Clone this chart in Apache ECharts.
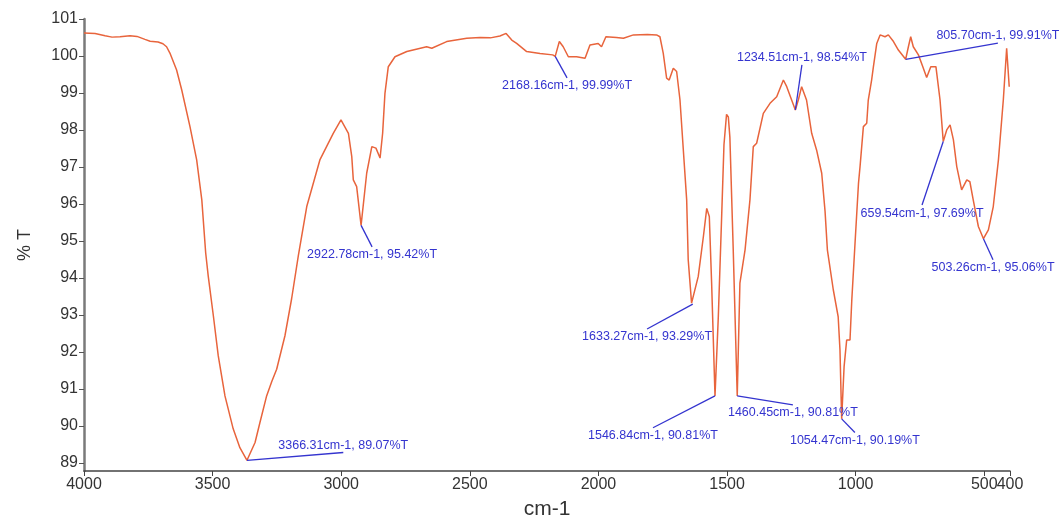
<!DOCTYPE html>
<html>
<head>
<meta charset="utf-8">
<script src="https://cdn.jsdelivr.net/npm/echarts@6/dist/echarts.min.js"></script>
<style>
  html, body { margin: 0; padding: 0; background: #fff; }
  #chart { width: 1059px; height: 516px; }
</style>
</head>
<body>
<div id="chart"></div>
<script>
// IR spectrum (cm-1 vs %T)
const wavenumber = [
  4000, 3957, 3918, 3891, 3860, 3821, 3794, 3763, 3743, 3712, 3693, 3679, 3666, 3640, 3620,
  3588, 3562, 3542, 3527, 3517, 3497, 3478, 3452, 3420, 3394, 3366.31, 3335, 3316, 3290, 3270,
  3251, 3219, 3193, 3167, 3134, 3083, 3031, 3001, 2972, 2959, 2953, 2940, 2922.78, 2901, 2881,
  2865, 2849, 2839, 2830, 2817, 2791, 2745, 2668, 2648, 2590, 2512, 2460, 2420, 2383, 2359,
  2337, 2318, 2279, 2227, 2178, 2168.16, 2152, 2137, 2117, 2085, 2052, 2033, 2001, 1988, 1971,
  1930, 1903, 1864, 1810, 1774, 1761, 1748, 1735, 1725, 1709, 1696, 1683, 1670, 1657, 1651,
  1638, 1633.27, 1612, 1592, 1579, 1569, 1560, 1546.84, 1534, 1521, 1512, 1502, 1495, 1489, 1476,
  1460.45, 1450, 1430, 1411, 1398, 1385, 1359, 1333, 1307, 1281, 1268, 1234.51, 1223, 1210, 1191,
  1171, 1152, 1132, 1119, 1110, 1087, 1068, 1061, 1054.47, 1045, 1035, 1022, 1015, 1002, 989,
  983, 970, 957, 951, 938, 931, 918, 905, 886, 873, 853, 834, 805.70, 795, 786,
  776, 756, 739, 724, 708, 688, 672, 659.54, 646, 633, 620, 607, 588, 568, 556,
  543, 523, 503.26, 484, 465, 445, 426, 413, 403
];
const transmittance = [
  100.62, 100.61, 100.55, 100.51, 100.52, 100.55, 100.53, 100.45, 100.40, 100.38, 100.33, 100.25, 100.08, 99.62, 99.08,
  98.09, 97.19, 96.11, 94.68, 94.05, 92.97, 91.89, 90.81, 89.92, 89.41, 89.07, 89.55, 90.09, 90.81, 91.20,
  91.53, 92.43, 93.43, 94.59, 95.93, 97.19, 97.91, 98.27, 97.91, 97.28, 96.65, 96.47, 95.42, 96.83, 97.55,
  97.51, 97.24, 97.91, 98.99, 99.71, 99.98, 100.12, 100.25, 100.21, 100.39, 100.48, 100.50, 100.49, 100.54, 100.61,
  100.43, 100.34, 100.12, 100.07, 100.03, 99.99, 100.39, 100.25, 99.98, 99.98, 99.94, 100.30, 100.34, 100.25, 100.52,
  100.50, 100.48, 100.57, 100.58, 100.57, 100.52, 100.07, 99.40, 99.35, 99.67, 99.58, 98.81, 97.46, 96.11, 94.49,
  93.32, 93.29, 94.04, 95.12, 95.88, 95.66, 93.86, 90.81, 92.95, 95.66, 97.60, 98.42, 98.35, 97.80, 94.76,
  90.81, 93.86, 94.76, 96.11, 97.55, 97.64, 98.45, 98.72, 98.90, 99.35, 99.17, 98.54, 98.81, 99.17, 98.81,
  97.91, 97.46, 96.83, 95.80, 94.76, 93.68, 92.95, 92.05, 90.19, 91.60, 92.32, 92.32, 93.41, 95.00, 96.56,
  97.01, 98.09, 98.18, 98.81, 99.35, 99.71, 100.34, 100.57, 100.52, 100.57, 100.39, 100.16, 99.91, 100.25, 100.52,
  100.25, 100.03, 99.71, 99.42, 99.71, 99.71, 98.81, 97.69, 98.00, 98.14, 97.73, 97.01, 96.38, 96.65, 96.60,
  96.11, 95.39, 95.06, 95.30, 95.93, 97.19, 98.81, 100.21, 99.17
];

// picked peaks
const peakWavenumber = [3366.31, 2922.78, 2168.16, 1633.27, 1546.84, 1460.45, 1054.47, 1234.51, 805.70, 659.54, 503.26];
const peakT = [89.07, 95.42, 99.99, 93.29, 90.81, 90.81, 90.19, 98.54, 99.91, 97.69, 95.06];

// where each leader line ends (axis units) and whether its text sits above or below
const labelAnchorX = [2992, 2880, 2122, 1811, 1788, 1244, 1003, 1209, 447, 742, 466];
const labelAnchorY = [89.28, 94.84, 99.41, 92.62, 89.95, 90.57, 89.82, 99.76, 100.35, 95.97, 94.49];
const labelSide = ['top', 'bottom', 'bottom', 'bottom', 'bottom', 'bottom', 'bottom', 'top', 'top', 'bottom', 'bottom'];

const xTicks = [4000, 3500, 3000, 2500, 2000, 1500, 1000, 500, 400];
const xEndTick = [400];
const yTicks = [89, 90, 91, 92, 93, 94, 95, 96, 97, 98, 99, 100, 101];

const FONT = 'Liberation Sans, Arial, sans-serif';
const BLUE = '#3434cf';

const chart = echarts.init(document.getElementById('chart'), null, { renderer: 'canvas' });

const lineData = wavenumber.map((w, i) => [w, transmittance[i]]);

const leaders = peakWavenumber.map((w, i) => [
  { coord: [w, peakT[i]] },
  { coord: [labelAnchorX[i], labelAnchorY[i]] }
]);

const labels = peakWavenumber.map((w, i) => ({
  coord: [labelAnchorX[i], labelAnchorY[i]],
  value: `${w.toFixed(2)}cm-1, ${peakT[i].toFixed(2)}%T`,
  label: {
    position: labelSide[i],
    distance: labelSide[i] === 'top' ? 0 : 1
  }
}));

const xLabelStyle = {
  hideOverlap: false,
  formatter: (v) => String(v),
  margin: 6,
  fontFamily: FONT,
  fontSize: 16,
  color: '#333'
};

chart.setOption({
  animation: false,
  grid: { left: 84, right: 49, top: 19, bottom: 45, outerBoundsMode: 'none' },
  xAxis: [
    {
      type: 'value',
      position: 'bottom',
      inverse: true,
      min: 400,
      max: 4000,
      name: 'cm-1',
      nameLocation: 'middle',
      nameGap: 28,
      nameTextStyle: { fontFamily: FONT, fontSize: 21, color: '#333' },
      axisLine: { show: true, onZero: false, lineStyle: { color: '#444', width: 1.5 } },
      axisTick: { show: true, inside: false, length: 5, customValues: xTicks, lineStyle: { color: '#444' } },
      axisLabel: Object.assign({ customValues: xTicks.filter((v) => v !== 400) }, xLabelStyle),
      splitLine: { show: false }
    },
    {
      // second copy of the same scale, only to carry the "400" end label
      type: 'value',
      position: 'bottom',
      inverse: true,
      min: 400,
      max: 4000,
      axisLine: { show: false },
      axisTick: { show: false },
      axisLabel: Object.assign({ customValues: xEndTick }, xLabelStyle),
      splitLine: { show: false }
    }
  ],
  yAxis: {
    type: 'value',
    min: 88.78,
    max: 101,
    name: '% T',
    nameLocation: 'middle',
    nameGap: 50,
    nameTextStyle: { fontFamily: FONT, fontSize: 18, color: '#333' },
    axisLine: { show: true, onZero: false, lineStyle: { color: '#7a7a7a', width: 2.5 } },
    axisTick: { show: true, inside: false, length: 5, customValues: yTicks, lineStyle: { color: '#555' } },
    axisLabel: {
      customValues: yTicks,
      formatter: (v) => String(v),
      margin: 6,
      fontFamily: FONT,
      fontSize: 16,
      color: '#333'
    },
    splitLine: { show: false }
  },
  series: [
    {
      type: 'line',
      data: lineData,
      showSymbol: false,
      smooth: false,
      lineStyle: { color: '#e8643c', width: 1.5 },
      markLine: {
        silent: true,
        symbol: ['none', 'none'],
        label: { show: false },
        lineStyle: { color: BLUE, width: 1.3, type: 'solid' },
        emphasis: { disabled: true },
        data: leaders
      },
      markPoint: {
        silent: true,
        symbol: 'circle',
        symbolSize: 1,
        itemStyle: { color: 'rgba(0,0,0,0)' },
        label: {
          show: true,
          formatter: (p) => p.value,
          fontFamily: FONT,
          fontSize: 12.5,
          color: BLUE
        },
        data: labels
      }
    }
  ]
});
</script>
</body>
</html>
